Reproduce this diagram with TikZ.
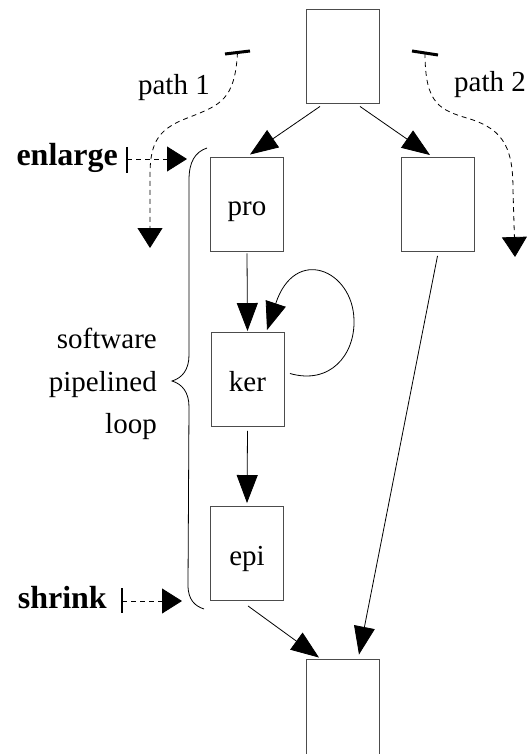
\documentclass[tikz,border=0pt]{standalone}
\usepackage{fontspec}
\setmainfont{Liberation Serif}
\usetikzlibrary{arrows.meta,calc}
\begin{document}
\begin{tikzpicture}[x=1pt,y=-1pt,
  blk/.style={draw=black!70, line width=0.9pt, minimum width=73pt, minimum height=94pt,
    inner sep=0pt, text height=23pt, text depth=0pt, font=\fontsize{29}{35}\selectfont},
  lbl/.style={inner sep=0pt, font=\fontsize{29}{42.5}\selectfont},
  blbl/.style={inner sep=0pt, font=\fontsize{32}{38}\selectfont\bfseries},
  flow/.style={line width=0.8pt, -{Triangle[length=28pt,width=21pt]}},
  hint/.style={line width=0.8pt, dash pattern=on 5pt off 4pt, -{Triangle[length=20pt,width=25pt]}},
  bar/.style={line width=3pt}]
\useasboundingbox (0,0) rectangle (527,754);

% basic blocks
\node[blk] (top)    at (342.5,56)    {};
\node[blk] (pro)    at (247,204)     {pro};
\node[blk] (right)  at (437.5,204.5) {};
\node[blk] (ker)    at (247.5,379.5) {ker};
\node[blk] (epi)    at (247,553.5)   {epi};
\node[blk, minimum height=110pt] (bottom) at (342.5,714) {};

% control flow edges
\draw[flow] ($(top.south)+(-22.5,3)$) -- ($(pro.north)+(3,-2)$);
\draw[flow] ($(top.south)+(17.5,3)$) -- ($(right.north)+(-7.5,-2)$);
\draw[flow] ($(pro.south)+(0,2)$) -- ($(ker.north)+(0,-1)$);
\draw[flow] ($(ker.south)+(0,4)$) -- ($(epi.north)+(0,-3)$);
\draw[flow] ($(right.south)+(0,4)$) -- ($(bottom.north)+(16.5,-4)$);
\draw[flow] ($(epi.south)+(1,5)$) -- ($(bottom.north)+(-23.5,-1)$);
% kernel back edge
\draw[flow] ($(ker.east)+(5.5,-6)$) .. controls (330,385) and (355,355) .. (354,320)
  .. controls (353,270) and (295,245) .. ($(ker.north)+(19.5,-2)$);

% brace around the pipelined loop
\draw[line width=0.8pt] (207,148) .. controls (195,152) and (189,162) .. (189,180)
  -- (189,355) .. controls (189,370) and (182,378) .. (172,381)
  .. controls (182,384) and (189,392) .. (189,407)
  -- (188,585) .. controls (188,600) and (195,606) .. (204,609);
\node[lbl, align=right, anchor=east] (swp) at (157,384) {software\\pipelined\\loop};

% execution paths
\coordinate (p1s) at (237.5,52.5);
\coordinate (p1e) at (150,248);
\draw[bar] (225,54) -- (250,51);
\draw[hint] (p1s) .. controls (235,100) and (220,105) .. (190,117)
  .. controls (160,128) and (150,140) .. (150,175) -- (p1e);
\node[lbl, anchor=base east] (path1) at (210,95) {path 1};

\coordinate (p2s) at (425,53);
\coordinate (p2e) at (515,257);
\draw[bar] (412,51) -- (438,55);
\draw[hint] (p2s) .. controls (425,105) and (440,110) .. (470,119)
  .. controls (505,130) and (513,150) .. (513,190) -- (p2e);
\node[lbl, anchor=base west] (path2) at (454,92) {path 2};

% enlarge / shrink markers
\node[blbl, anchor=base east] (enl) at (118,165) {enlarge};
\coordinate (enlbar) at (127,159);
\coordinate (enltip) at (187,159);
\draw[bar, line width=2.5pt] (127,147) -- (127,173);
\draw[hint] (enlbar) -- (enltip);

\node[blbl, anchor=base east] (shr) at (107,608) {shrink};
\coordinate (shrbar) at (122,601);
\coordinate (shrtip) at (182,601);
\draw[bar, line width=2.5pt] (122,588) -- (122,613);
\draw[hint] (shrbar) -- (shrtip);
\end{tikzpicture}
\end{document}
